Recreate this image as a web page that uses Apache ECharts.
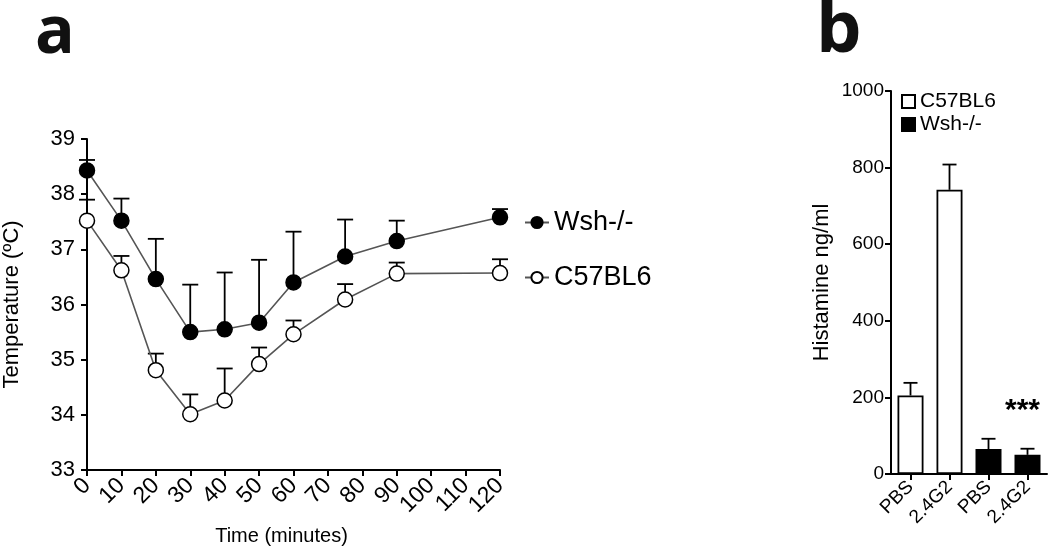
<!DOCTYPE html>
<html><head><meta charset="utf-8">
<script src="https://cdn.jsdelivr.net/npm/echarts@6/dist/echarts.min.js"></script>
<style>html,body{margin:0;padding:0;background:#fff}#c{width:1050px;height:551px}</style>
</head><body><div id="c"></div>
<script>
// Panel a: temperature time course
const timePoints = [0, 10, 20, 30, 40, 50, 60, 75, 90, 120];
const wshMean = [38.43, 37.52, 36.46, 35.50, 35.55, 35.67, 36.40, 36.87, 37.15, 37.58];
const wshUpper = [38.62, 37.92, 37.19, 36.36, 36.58, 36.81, 37.32, 37.54, 37.52, 37.73];
const c57Mean = [37.52, 36.62, 34.81, 34.01, 34.26, 34.92, 35.46, 36.09, 36.56, 36.57];
const c57Upper = [37.90, 36.88, 35.11, 34.37, 34.84, 35.22, 35.71, 36.37, 36.76, 36.82];
const xTicks = [0, 10, 20, 30, 40, 50, 60, 70, 80, 90, 100, 110, 120];
const yTicks = [33, 34, 35, 36, 37, 38, 39];
// Panel b: histamine
const barCategories = ['PBS', '2.4G2', 'PBS', '2.4G2'];
const c57Bars = [205, 742, '-', '-'];
const wshBars = ['-', '-', 65, 50];
const barUpper = [238, 808, 92, 66];
const barTicks = [0, 200, 400, 600, 800, 1000];

const FONT = 'Liberation Sans, Arial, sans-serif';
const chart = echarts.init(document.getElementById('c'));

function errBar(api) {
  const x = api.value(0), lo = api.value(1), hi = api.value(2);
  const p0 = api.coord([x, lo]), p1 = api.coord([x, hi]);
  const cap = api.value(3);
  return {type: 'group', children: [
    {type: 'line', shape: {x1: p0[0], y1: p0[1], x2: p1[0], y2: p1[1]}, style: {stroke: '#000', lineWidth: 1.8}},
    {type: 'line', shape: {x1: p1[0] - cap, y1: p1[1], x2: p1[0] + cap, y2: p1[1]}, style: {stroke: '#000', lineWidth: 1.8}}
  ]};
}

const axisLine = {show: true, lineStyle: {color: '#000', width: 2}};
const axisTick = {show: true, length: 6, lineStyle: {color: '#000', width: 2}};

chart.setOption({
  animation: false,
  textStyle: {fontFamily: FONT},
  title: [
    {text: 'a', left: 30, top: -4, textStyle: {fontSize: 66, fontWeight: 'bold', color: '#111', fontFamily: 'Open Sans, sans-serif'}},
    {text: 'b', left: 811, top: -10, textStyle: {fontSize: 72, fontWeight: 'bold', color: '#111', fontFamily: 'Open Sans, sans-serif'}}
  ],
  legend: [
    {data: ['Wsh-/-'], left: 519, top: 204, itemWidth: 24, itemHeight: 14, textStyle: {fontSize: 27, color: '#000', fontFamily: FONT}},
    {data: ['C57BL6'], left: 519, top: 259, itemWidth: 24, itemHeight: 14, textStyle: {fontSize: 27, color: '#000', fontFamily: FONT}},
    {data: [{name: 'C57BL6 ', icon: 'rect'}, {name: 'Wsh-/- ', icon: 'rect'}], orient: 'vertical', left: 896, top: 86, itemWidth: 13, itemHeight: 13, itemGap: 2,
     textStyle: {fontSize: 21, color: '#000', fontFamily: FONT}}
  ],
  grid: [
    {left: 85, right: 550, top: 139, bottom: 78},
    {left: 891, right: 3, top: 91, bottom: 77}
  ],
  xAxis: [
    {type: 'value', gridIndex: 0, min: 0, max: 120, interval: 10,
     axisLine, axisTick, splitLine: {show: false},
     axisLabel: {rotate: 45, fontSize: 23, color: '#000', margin: 12},
     name: 'Time (minutes)', nameLocation: 'middle', nameGap: 56,
     nameTextStyle: {fontSize: 20, color: '#000', padding: [0, 24, 0, 0]}},
    {type: 'category', gridIndex: 1, data: barCategories,
     axisLine, axisTick: {show: true, alignWithLabel: true, length: 6, lineStyle: {color: '#000', width: 2}},
     axisLabel: {rotate: 45, fontSize: 19, color: '#000', margin: 10, interval: 0}}
  ],
  yAxis: [
    {type: 'value', gridIndex: 0, min: 33, max: 39, interval: 1,
     axisLine, axisTick, splitLine: {show: false},
     axisLabel: {fontSize: 22, color: '#000', margin: 12},
     name: 'Temperature (ºC)', nameLocation: 'middle', nameGap: 64, nameRotate: 90,
     nameTextStyle: {fontSize: 22, color: '#000'}},
    {type: 'value', gridIndex: 1, min: 0, max: 1000, interval: 200,
     axisLine, axisTick, splitLine: {show: false},
     axisLabel: {fontSize: 19, color: '#000', margin: 7, formatter: v => String(v)},
     name: 'Histamine ng/ml', nameLocation: 'middle', nameGap: 58, nameRotate: 90,
     nameTextStyle: {fontSize: 22, color: '#000'}}
  ],
  series: [
    {type: 'custom', xAxisIndex: 0, yAxisIndex: 0, renderItem: (p, api) => errBar(api),
     data: timePoints.map((t, i) => [t, wshMean[i], wshUpper[i], 8]), z: 1, silent: true},
    {type: 'custom', xAxisIndex: 0, yAxisIndex: 0, renderItem: (p, api) => errBar(api),
     data: timePoints.map((t, i) => [t, c57Mean[i], c57Upper[i], 8]), z: 1, silent: true},
    {name: 'Wsh-/-', type: 'line', xAxisIndex: 0, yAxisIndex: 0, data: timePoints.map((t, i) => [t, wshMean[i]]),
     symbol: 'circle', symbolSize: 15, lineStyle: {color: '#555', width: 1.6},
     itemStyle: {color: '#000', borderColor: '#000', borderWidth: 1.5}, z: 3},
    {name: 'C57BL6', type: 'line', xAxisIndex: 0, yAxisIndex: 0, data: timePoints.map((t, i) => [t, c57Mean[i]]),
     symbol: 'circle', symbolSize: 15, lineStyle: {color: '#555', width: 1.6},
     itemStyle: {color: '#fff', borderColor: '#000', borderWidth: 1.5}, z: 3},
    {type: 'custom', xAxisIndex: 1, yAxisIndex: 1, renderItem: (p, api) => errBar(api),
     data: barCategories.map((c, i) => [i, (c57Bars[i] === '-' ? wshBars[i] : c57Bars[i]), barUpper[i], 7]), z: 1, silent: true},
    {name: 'C57BL6 ', type: 'bar', xAxisIndex: 1, yAxisIndex: 1, data: c57Bars, barWidth: 26, barGap: '-100%',
     itemStyle: {color: '#fff', borderColor: '#000', borderWidth: 1.8}, z: 2},
    {name: 'Wsh-/- ', type: 'bar', xAxisIndex: 1, yAxisIndex: 1, data: wshBars, barWidth: 26, barGap: '-100%',
     itemStyle: {color: '#000', borderColor: '#000', borderWidth: 1.8}, z: 2}
  ],
  graphic: [
    {type: 'text', left: 1005, top: 396, style: {text: '***', fontSize: 30, fontWeight: 'bold', fill: '#000', fontFamily: FONT}}
  ]
});
</script></body></html>
